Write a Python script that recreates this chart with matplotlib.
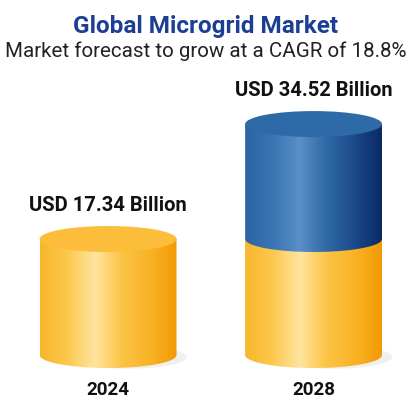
import numpy as np
import matplotlib.pyplot as plt
from matplotlib.colors import LinearSegmentedColormap
from matplotlib.patches import Ellipse, Polygon

years = ["2024", "2028"]
base_values = [17.34, 17.34]
totals = [17.34, 34.52]
value_labels = ["USD 17.34 Billion", "USD 34.52 Billion"]

plt.rcParams["font.family"] = ["Roboto", "DejaVu Sans"]

yellow_cmap = LinearSegmentedColormap.from_list(
    "yellow", ["#f8b62a", "#fcc84e", "#ffe4a0", "#fcc444", "#f9b326", "#f39a06"])
blue_cmap = LinearSegmentedColormap.from_list(
    "blue", ["#2c64a3", "#3a75b4", "#5a8fc6", "#2f68a6", "#1b4a8a", "#0b2a66"])

fig = plt.figure(figsize=(4.12, 4.03), dpi=100)
ax = fig.add_axes([0, 0, 1, 1])
ax.set_xlim(-0.526, 1.479)
ax.set_ylim(-7.17, 53.06)
ax.axis("off")

half_w = 0.333   # half the cylinder width in x units
half_h = 1.94    # half the ellipse height in value units
grad = np.linspace(0, 1, 256).reshape(1, -1)


def body(cx, v0, v1, cmap, z):
    t = np.linspace(np.pi, 2 * np.pi, 80)
    arc = np.column_stack([cx + half_w * np.cos(t), v0 + half_h * np.sin(t)])
    verts = np.vstack([[cx - half_w, v1], arc, [cx + half_w, v1]])
    patch = Polygon(verts, closed=True, facecolor="none", edgecolor="none", zorder=z)
    ax.add_patch(patch)
    im = ax.imshow(grad, cmap=cmap, aspect="auto", zorder=z,
                   extent=(cx - half_w, cx + half_w, v0 - half_h, v1))
    im.set_clip_path(patch)


for i, (base, total) in enumerate(zip(base_values, totals)):
    # soft shadow at the foot, off to the right
    ax.add_patch(Ellipse((i + 0.1, -0.3), 2 * half_w * 0.85, 2 * half_h * 0.9,
                         facecolor="#d0d0d0", edgecolor="none", alpha=0.3, zorder=1))
    body(i, 0, base, yellow_cmap, 2)
    top_color = "#fbbd3a"
    if total > base:
        body(i, base, total, blue_cmap, 3)
        top_color = "#2e6aa7"
    ax.add_patch(Ellipse((i, total), 2 * half_w, 2 * half_h,
                         facecolor=top_color, edgecolor="none", zorder=4))
    ax.text(i, total + 5.0, value_labels[i], ha="center", va="center",
            fontsize=14.5, fontweight="bold", color="#111111")
    ax.text(i, -5.3, years[i], ha="center", va="center",
            fontsize=13.5, fontweight="bold", color="#111111")

fig.text(0.5, 1 - 26 / 403, "Global Microgrid Market", ha="center", va="center",
         fontsize=17.5, fontweight="bold", color="#1c3f94")
fig.text(0.5, 1 - 51 / 403, "Market forecast to grow at a CAGR of 18.8%",
         ha="center", va="center", fontsize=14.8, color="#222222")

fig.savefig("out.png", dpi=100)
